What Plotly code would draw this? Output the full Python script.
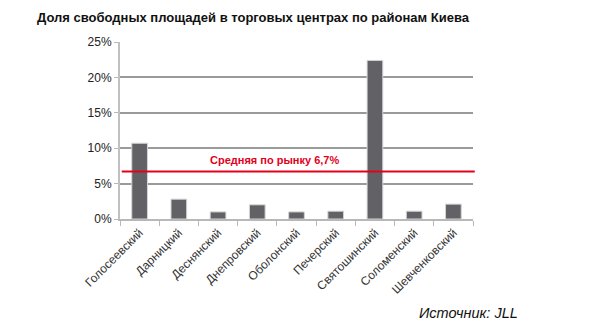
import plotly.graph_objects as go

# Vacancy rate by Kyiv district, %
districts = ["Голосеевский", "Дарницкий", "Деснянский", "Днепровский", "Оболонский",
             "Печерский", "Святошинский", "Соломенский", "Шевченковский"]
vacancy = [10.7, 2.8, 1.0, 2.0, 1.0, 1.1, 22.4, 1.1, 2.1]
market_avg = 6.7
y_ticks = [0, 5, 10, 15, 20, 25]
y_tick_labels = ["0%", "5%", "10%", "15%", "20%", "25%"]

W, H = 595, 331
ML, MR, MT, MB = 120, 122, 42, 112
PW, PH = W - ML - MR, H - MT - MB
FONT = "Liberation Sans, Arial, sans-serif"

fig = go.Figure()
fig.add_trace(go.Bar(
    x=districts, y=vacancy,
    marker=dict(color="#626266", line=dict(color="#d4d4d6", width=1)),
    width=0.4,
    hoverinfo="x+y",
))

# market average line
fig.add_shape(type="line", xref="paper", yref="y", x0=0.005, x1=1.005,
              y0=market_avg, y1=market_avg,
              line=dict(color="#e3001b", width=2), layer="above")
fig.add_annotation(x=0.25, xref="paper", y=market_avg, yref="y",
                   text="<b>Средняя по рынку 6,7%</b>", showarrow=False,
                   xanchor="left", yanchor="bottom", yshift=4,
                   font=dict(family=FONT, size=11, color="#e3001b"))

# source note (positioned in pixels, converted to paper units)
fig.add_annotation(x=(520 - ML) / PW, xref="paper",
                   y=(H - MB - 313) / PH, yref="paper",
                   text="<i>Источник: JLL</i>", showarrow=False,
                   xanchor="right", yanchor="middle",
                   font=dict(family=FONT, size=14.5, color="#111111"))

fig.update_layout(
    width=W, height=H,
    margin=dict(l=ML, r=MR, t=MT, b=MB),
    paper_bgcolor="white", plot_bgcolor="white",
    showlegend=False,
    title=dict(text="<b>Доля свободных площадей в торговых центрах по районам Киева</b>",
               x=37 / W, xanchor="left", xref="container",
               y=1 - 17 / H, yanchor="middle", yref="container",
               font=dict(family=FONT, size=13, color="#111111")),
    font=dict(family=FONT),
)
fig.update_xaxes(
    type="category", tickangle=-45,
    tickfont=dict(family=FONT, size=12, color="#333333"),
    showline=True, linecolor="#b8b8b8", linewidth=2,
    ticks="outside", tickson="boundaries", ticklen=5, tickcolor="#b8b8b8",
    showgrid=False,
)
fig.update_yaxes(
    range=[0, 25], tickvals=y_ticks, ticktext=y_tick_labels,
    tickfont=dict(family=FONT, size=12, color="#222222"),
    showgrid=True, gridcolor="#9a9a9a", gridwidth=1.5,
    showline=True, linecolor="#c0c0c0", linewidth=2,
    ticks="outside", ticklen=4, tickcolor="#b8b8b8",
    zeroline=False,
)

fig.write_html("out.html")
